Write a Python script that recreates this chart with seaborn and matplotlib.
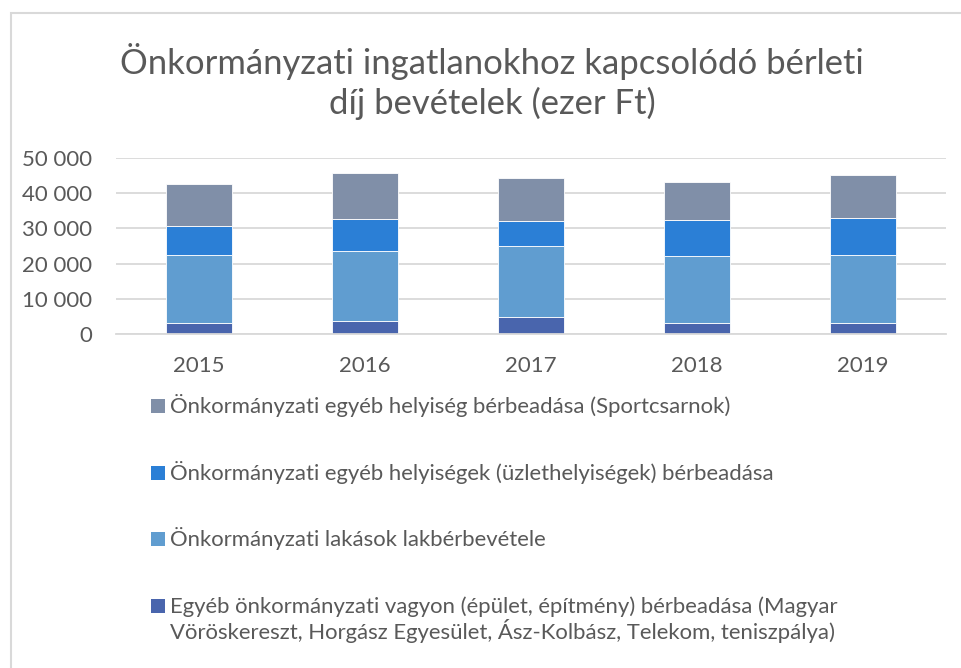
import matplotlib
matplotlib.use("Agg")
import matplotlib.pyplot as plt
from matplotlib.patches import Rectangle
import seaborn as sns
import numpy as np

years = ["2015", "2016", "2017", "2018", "2019"]
egyeb_vagyon = [3000, 3700, 4850, 3000, 3000]
lakasok = [19400, 19900, 20150, 19200, 19400]
uzlethelyisegek = [8200, 9200, 7200, 10200, 10700]
sportcsarnok = [12200, 13000, 12200, 10900, 12200]

series_names = [
    ["Egyéb önkormányzati vagyon (épület, építmény) bérbeadása (Magyar",
     "Vöröskereszt, Horgász Egyesület, Ász-Kolbász, Telekom, teniszpálya)"],
    ["Önkormányzati lakások lakbérbevétele"],
    ["Önkormányzati egyéb helyiségek (üzlethelyiségek) bérbeadása"],
    ["Önkormányzati egyéb helyiség bérbeadása (Sportcsarnok)"],
]
series_values = [egyeb_vagyon, lakasok, uzlethelyisegek, sportcsarnok]
colors = ["#4965AD", "#609DD0", "#2B7FD6", "#808FA8"]
y_ticks = [0, 10000, 20000, 30000, 40000, 50000]
y_tick_labels = ["0", "10 000", "20 000", "30 000", "40 000", "50 000"]

sns.set_style("white")
plt.rcParams["font.family"] = ["Lato", "DejaVu Sans"]
text_color = "#595959"

W, H = 962, 668
fig = plt.figure(figsize=(W / 100, H / 100), dpi=100)

# outer chart frame
fig.add_artist(Rectangle((10.5 / W, -0.1), 1.2, (H - 13.5) / H + 0.1,
                         transform=fig.transFigure, fill=False,
                         edgecolor="#D9D9D9", linewidth=1.5))

ax = fig.add_axes([116 / W, (H - 333.7) / H, 830 / W, 175.4 / H])

bottom = np.zeros(len(years))
for vals, col in zip(series_values, colors):
    sns.barplot(x=years, y=vals, bottom=bottom, color=col, width=0.4,
                edgecolor="white", linewidth=0.6, saturation=1, ax=ax)
    bottom = bottom + np.array(vals)

ax.set_ylim(0, 50000)
ax.set_xlim(-0.5, 4.5)
ax.set_yticks(y_ticks)
ax.set_yticklabels(y_tick_labels)
ax.yaxis.grid(True, color="#D9D9D9", linewidth=1.3)
ax.set_axisbelow(True)
for s in ["top", "right", "left"]:
    ax.spines[s].set_visible(False)
ax.spines["bottom"].set_color("#D9D9D9")
ax.spines["bottom"].set_linewidth(1.3)
ax.tick_params(axis="both", length=0, labelsize=16, colors=text_color)
ax.tick_params(axis="y", pad=17)
ax.tick_params(axis="x", pad=16)

fig.text(492 / W, 1 - 61 / H, "Önkormányzati ingatlanokhoz kapcsolódó bérleti",
         ha="center", va="center", fontsize=24.9, color=text_color)
fig.text(492 / W, 1 - 103 / H, "díj bevételek (ezer Ft)",
         ha="center", va="center", fontsize=24.9, color=text_color)

# legend, top series first
legend_rows = [406, 472.5, 539, 606]
for lines, col, yrow in zip(series_names[::-1], colors[::-1], legend_rows):
    fig.add_artist(Rectangle((151 / W, 1 - (yrow + 7) / H), 14 / W, 14 / H,
                             transform=fig.transFigure, facecolor=col,
                             edgecolor="none"))
    for k, line in enumerate(lines):
        fig.text(170 / W, 1 - (yrow + 7 + 26 * k) / H, line, ha="left",
                 va="baseline", fontsize=15.9, color=text_color)

fig.savefig("out.png", dpi=100)
